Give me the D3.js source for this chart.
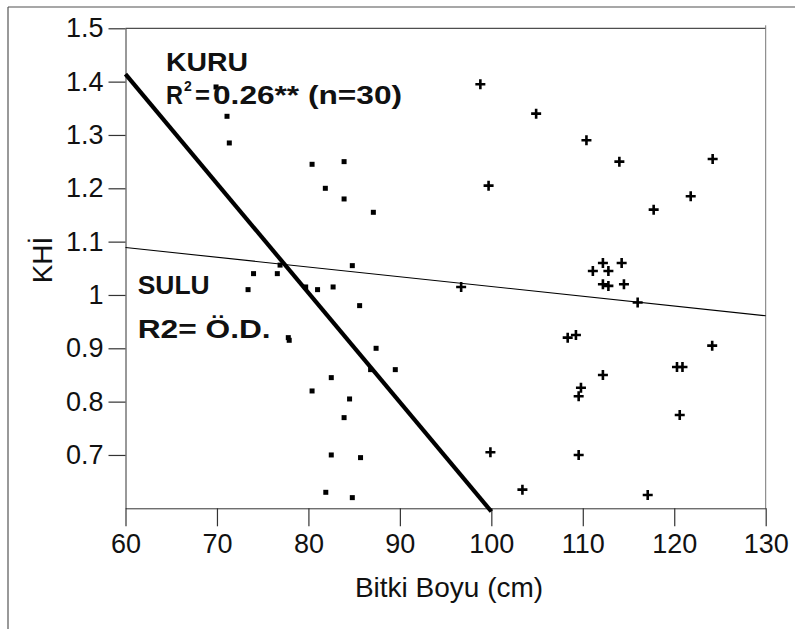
<!DOCTYPE html>
<html>
<head>
<meta charset="utf-8">
<script src="https://cdn.jsdelivr.net/npm/d3@7/dist/d3.min.js"></script>
<style>
  html, body { margin: 0; padding: 0; background: #fff; }
  svg { display: block; }
  text { font-family: "Liberation Sans", Arial, Helvetica, sans-serif; fill: #111; }
</style>
</head>
<body>
<svg id="chart" width="795" height="629"></svg>
<script>
// Plant height (cm) vs. KHİ, dry (KURU) and irrigated (SULU) conditions
const kuruHeight = [69.9, 71.1, 71.35, 80.4, 83.9, 81.85, 83.9, 87.1, 84.8, 74.0,
                    76.6, 73.4, 76.9, 79.7, 81.0, 82.7, 85.6, 77.8, 77.9, 87.4,
                    86.8, 89.5, 82.5, 80.4, 84.5, 83.9, 82.5, 85.7, 81.9, 84.8];
const kuruKHI    = [1.39, 1.335, 1.285, 1.245, 1.25, 1.20, 1.18, 1.155, 1.055, 1.04,
                    1.04, 1.01, 1.056, 1.015, 1.01, 1.015, 0.98, 0.92, 0.915, 0.90,
                    0.86, 0.86, 0.845, 0.82, 0.805, 0.77, 0.70, 0.695, 0.63, 0.62];

const suluHeight = [98.8, 104.9, 110.4, 114.0, 124.2, 99.7, 121.8, 117.75, 112.2, 114.25,
                    111.1, 112.8, 112.2, 112.8, 114.5, 96.7, 116.0, 108.35, 109.25, 124.15,
                    120.3, 120.9, 112.2, 109.8, 109.55, 120.6, 99.9, 109.55, 103.4, 117.1];
const suluKHI    = [1.395, 1.34, 1.29, 1.25, 1.255, 1.205, 1.185, 1.16, 1.06, 1.06,
                    1.045, 1.045, 1.02, 1.017, 1.02, 1.015, 0.986, 0.92, 0.925, 0.905,
                    0.865, 0.865, 0.85, 0.826, 0.81, 0.775, 0.705, 0.70, 0.635, 0.625];

// Fitted regression lines (end points)
const kuruFitX = [60, 100];
const kuruFitY = [1.414, 0.594];
const suluFitX = [60, 130];
const suluFitY = [1.089, 0.961];

// Axis ticks
const xTicks = [60, 70, 80, 90, 100, 110, 120, 130];
const yTicks = [0.7, 0.8, 0.9, 1.0, 1.1, 1.2, 1.3, 1.4, 1.5];
const yTickLabels = ["0.7", "0.8", "0.9", "1", "1.1", "1.2", "1.3", "1.4", "1.5"];

const svg = d3.select("#chart");

const plotLeft = 125.5, plotRight = 765.7, plotTop = 28.3, plotBottom = 508.3;
const x = d3.scaleLinear().domain([60, 130]).range([plotLeft, plotRight]);
const y = d3.scaleLinear().domain([0.6, 1.5]).range([plotBottom, plotTop]);

// outer frame
svg.append("line").attr("x1", 8).attr("y1", 7).attr("x2", 795).attr("y2", 7)
  .attr("stroke", "#8a8a8a").attr("stroke-width", 1.5);
svg.append("line").attr("x1", 8).attr("y1", 7).attr("x2", 8).attr("y2", 629)
  .attr("stroke", "#555").attr("stroke-width", 1.2);

// plot box (top and right)
svg.append("line").attr("x1", plotLeft).attr("y1", plotTop).attr("x2", plotRight).attr("y2", plotTop)
  .attr("stroke", "#222").attr("stroke-width", 1);
svg.append("line").attr("x1", plotRight).attr("y1", plotTop - 3).attr("x2", plotRight).attr("y2", plotBottom)
  .attr("stroke", "#777").attr("stroke-width", 1);

// axes
const xAxis = d3.axisBottom(x).tickValues(xTicks).tickSize(18).tickSizeOuter(0).tickPadding(8)
  .tickFormat(d3.format("d"));
const gx = svg.append("g").attr("transform", `translate(0,${plotBottom})`).call(xAxis);
const yAxis = d3.axisLeft(y).tickValues(yTicks).tickSize(17).tickSizeOuter(0).tickPadding(5)
  .tickFormat((d, i) => yTickLabels[i]);
const gy = svg.append("g").attr("transform", `translate(${plotLeft},0)`).call(yAxis);

[gx, gy].forEach(g => {
  g.select(".domain").attr("stroke", "#333").attr("stroke-width", 1);
  g.selectAll(".tick line").attr("stroke", "#333").attr("stroke-width", 1.2);
  g.selectAll(".tick text").attr("font-size", 27).attr("fill", "#111")
    .style("font-family", '"Liberation Sans", Arial, sans-serif');
});

// axis titles
svg.append("text").attr("x", 449).attr("y", 597).attr("text-anchor", "middle")
  .attr("font-size", 28).text("Bitki Boyu (cm)");
svg.append("text").attr("transform", "translate(52,260) rotate(-90)")
  .attr("text-anchor", "middle").attr("font-size", 28).text("KHİ");

// regression lines
const line = d3.line().x(d => x(d[0])).y(d => y(d[1]));
svg.append("path").datum(d3.zip(suluFitX, suluFitY)).attr("d", line)
  .attr("fill", "none").attr("stroke", "#000").attr("stroke-width", 1.1);
svg.append("path").datum(d3.zip(kuruFitX, kuruFitY)).attr("d", line)
  .attr("fill", "none").attr("stroke", "#000").attr("stroke-width", 4.2);

// KURU points: small squares
svg.append("g").selectAll("rect").data(d3.zip(kuruHeight, kuruKHI)).join("rect")
  .attr("x", d => x(d[0]) - 2.5).attr("y", d => y(d[1]) - 2.5)
  .attr("width", 5).attr("height", 5).attr("fill", "#000");

// SULU points: crosses
svg.append("g").selectAll("path").data(d3.zip(suluHeight, suluKHI)).join("path")
  .attr("transform", d => `translate(${x(d[0])},${y(d[1])})`)
  .attr("d", "M-5,0H5M0,-5V5")
  .attr("stroke", "#000").attr("stroke-width", 2.6).attr("fill", "none");

// annotations (bold, slightly wide lettering)
const ann = svg.append("g").attr("font-weight", "bold").attr("font-size", 25);
ann.append("text").attr("x", 166).attr("y", 70.7)
  .attr("textLength", 82).attr("lengthAdjust", "spacingAndGlyphs").text("KURU");
const r2 = ann.append("text").attr("x", 166).attr("y", 104);
r2.append("tspan").attr("textLength", 17).attr("lengthAdjust", "spacingAndGlyphs").text("R");
r2.append("tspan").attr("dy", -13).attr("x", 184).attr("font-size", 14).text("2");
r2.append("tspan").attr("dy", 13).attr("x", 195).attr("textLength", 15)
  .attr("lengthAdjust", "spacingAndGlyphs").text("=");
r2.append("tspan").attr("x", 213).attr("textLength", 189).attr("lengthAdjust", "spacingAndGlyphs")
  .text("0.26** (n=30)");
ann.append("text").attr("x", 137.7).attr("y", 293.7)
  .attr("textLength", 72).attr("lengthAdjust", "spacingAndGlyphs").text("SULU");
ann.append("text").attr("x", 137.7).attr("y", 338)
  .attr("textLength", 133).attr("lengthAdjust", "spacingAndGlyphs").text("R2= Ö.D.");
</script>
</body>
</html>
